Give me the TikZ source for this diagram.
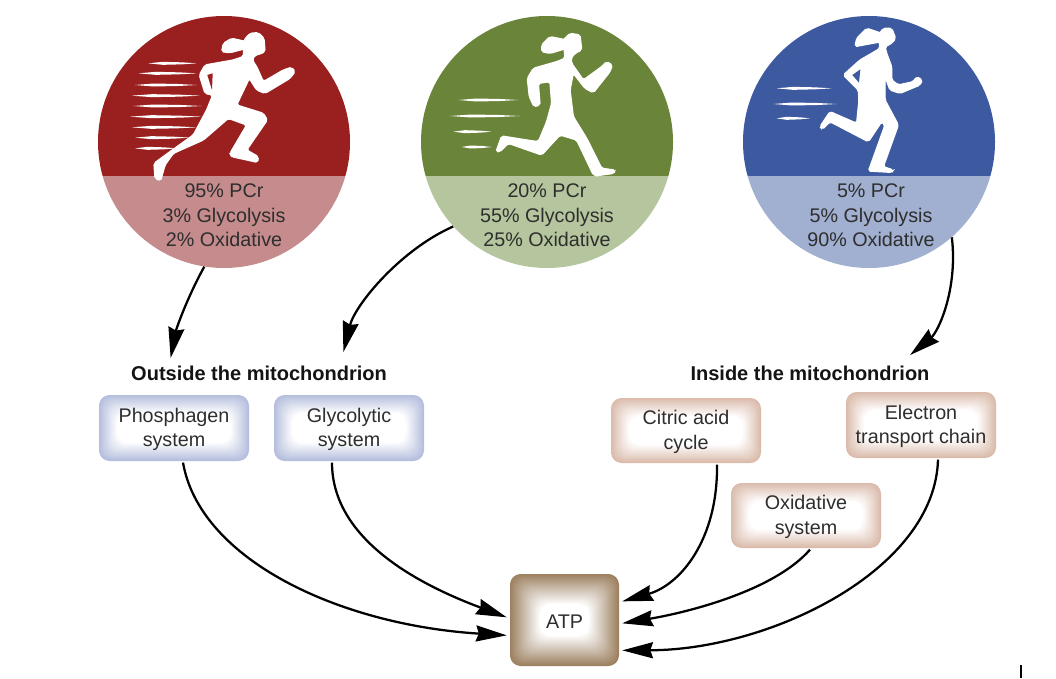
\documentclass[tikz,border=0pt]{standalone}
\usepackage{fontspec}
\setmainfont{Liberation Sans}
\usetikzlibrary{calc,arrows.meta}
\definecolor{redD}{HTML}{9A1F1F}\definecolor{redL}{HTML}{C68B8C}
\definecolor{grnD}{HTML}{6A8439}\definecolor{grnL}{HTML}{B5C69E}
\definecolor{bluD}{HTML}{3D5AA0}\definecolor{bluL}{HTML}{A1AFD0}
\definecolor{boxB}{HTML}{B4BEDD}\definecolor{boxP}{HTML}{DABBAB}\definecolor{boxA}{HTML}{9C8060}
\tikzset{
  pct/.style={font=\fontsize{14.8}{18.4}\selectfont,align=center,inner sep=0pt,text=black!82},
  heading/.style={font=\fontsize{15}{18}\selectfont\bfseries,inner sep=1pt,text=black!92},
  boxtext/.style={font=\fontsize{14.8}{18.4}\selectfont,align=center,inner sep=0pt,text=black!82},
  disc/.style={circle,minimum size=189pt,inner sep=0pt},
  flow/.style={line width=1.7pt,black,-{Stealth[length=23pt,width=12pt,inset=2pt]}},
  body/.style={fill=white,draw=white,line width=1pt,rounded corners=1.4pt},
}
% name, cx, cy, w, h, colour, depth, text
\newcommand\glowbox[8]{%
  \foreach \i in {0,...,#7}{%
    \pgfmathsetmacro\share{100*(1-\i/#7)}%
    \fill[#6!\share!white,rounded corners=8pt]
      ({#2-#4/2+\i},{#3-#5/2+\i}) rectangle ({#2+#4/2-\i},{#3+#5/2-\i});
  }%
  \node[boxtext,minimum width=#4*.75pt,minimum height=#5*.75pt,yshift=-1pt] (#1) at (#2,#3) {#8};
}
% name, cx, colour dark, colour light
\newcommand\halfdisc[4]{%
  \node[disc] (#1) at (#2,142) {};
  \begin{scope}
    \clip (#2,142) circle [radius=126];
    \fill[#3] ({#2-130},10) rectangle ({#2+130},176);
    \fill[#4] ({#2-130},176) rectangle ({#2+130},275);
  \end{scope}
}
\newcommand\speed[3]{\fill[white] (#1,#3) -- ({#1+(#2-#1)*.3},{#3-4.5}) -- ({#1+(#2-#1)*.7},{#3-3}) -- (#2,#3) -- ({#1+(#2-#1)*.7},{#3+3}) -- ({#1+(#2-#1)*.3},{#3+4.5}) -- cycle;}
\begin{document}
\begin{tikzpicture}[x=.75pt,y=-.75pt]
\useasboundingbox (0,0) rectangle (1056,678);
\fill[white] (0,0) rectangle (1056,678);

\halfdisc{discA}{224}{redD}{redL}
\halfdisc{discB}{547}{grnD}{grnL}
\halfdisc{discC}{869}{bluD}{bluL}

% runner 1
\begin{scope}[shift={(90,10)},x=.25pt,y=-.25pt]
\fill[body] (462,90)--(480,70)--(505,68)--(522,85)--(525,125)--(508,133)--(495,135)--(487,150)--(500,170)--(520,215)--(580,180)--(605,172)--(615,185)--(600,205)--(525,250)--(500,240)--(478,205)--(440,285)--(520,310)--(532,330)--(470,420)--(505,440)--(503,457)--(425,440)--(420,430)--(470,345)--(415,325)--(340,390)--(250,430)--(225,465)--(212,512)--(195,505)--(192,460)--(240,425)--(310,375)--(350,300)--(368,255)--(345,250)--(328,195)--(345,165)--(430,150)--(460,140)--cycle;
\fill[body] (470,95)--(425,85)--(400,100)--(395,125)--(420,128)--(470,115)--cycle;
\fill[redD] (352,195)--(368,190)--(366,240)--cycle;
\speed{175}{320}{160}\speed{145}{320}{190}\speed{135}{320}{225}
\speed{125}{330}{257}\speed{130}{335}{288}\speed{120}{335}{320}
\speed{125}{320}{352}\speed{135}{300}{383}\speed{135}{260}{415}
\end{scope}

% runner 2
\begin{scope}[shift={(410,10)},x=.25pt,y=-.25pt]
\fill[body] (460,90)--(480,70)--(510,75)--(515,120)--(495,130)--(483,145)--(485,160)--(520,210)--(575,170)--(590,155)--(607,165)--(600,185)--(550,248)--(525,235)--(490,190)--(480,240)--(490,320)--(530,385)--(575,475)--(615,480)--(612,490)--(560,497)--(550,495)--(500,390)--(450,375)--(395,435)--(295,400)--(270,425)--(258,425)--(275,378)--(350,390)--(385,395)--(410,335)--(425,280)--(420,215)--(385,220)--(390,285)--(372,290)--(358,260)--(352,205)--(370,175)--(440,155)--(465,145)--cycle;
\fill[body] (470,90)--(420,80)--(395,105)--(395,125)--(420,130)--(470,115)--cycle;
\speed{145}{325}{270}\speed{120}{330}{318}\speed{130}{245}{365}\speed{155}{245}{411}
\end{scope}

% runner 3
\begin{scope}[shift={(735,10)},x=.25pt,y=-.25pt]
\fill[body] (430,75)--(445,55)--(470,55)--(482,85)--(470,100)--(450,110)--(455,130)--(470,170)--(470,210)--(490,225)--(535,215)--(545,200)--(562,210)--(555,225)--(495,250)--(465,240)--(450,200)--(450,270)--(490,345)--(445,470)--(475,480)--(470,487)--(400,483)--(408,462)--(450,345)--(440,335)--(400,395)--(285,335)--(262,358)--(255,350)--(285,305)--(365,340)--(372,270)--(370,240)--(325,195)--(375,150)--(410,130)--(435,115)--cycle;
\fill[bluD] (352,195)--(376,178)--(372,218)--cycle;
\fill[body] (440,70)--(395,55)--(365,85)--(360,110)--(385,105)--(440,95)--cycle;
\speed{125}{290}{235}\speed{115}{305}{282}\speed{125}{225}{325}
\end{scope}

\node[pct] (textA) at (224,215.5) {95\% PCr\\3\% Glycolysis\\2\% Oxidative};
\node[pct] (textB) at (547,215.5) {20\% PCr\\55\% Glycolysis\\25\% Oxidative};
\node[pct] (textC) at (871,215.5) {5\% PCr\\5\% Glycolysis\\90\% Oxidative};

\node[heading] (outside) at (259,373) {Outside the mitochondrion};
\node[heading] (inside) at (810,373) {Inside the mitochondrion};

\glowbox{phos}{174}{428}{150}{66}{boxB}{18}{Phosphagen\\system}
\glowbox{glyc}{349}{428}{150}{66}{boxB}{18}{Glycolytic\\system}
\glowbox{citric}{686}{430.5}{150}{65}{boxP}{18}{Citric acid\\cycle}
\glowbox{elec}{921}{425}{150}{66}{boxP}{18}{Electron\\transport chain}
\glowbox{oxid}{806}{515.5}{150}{65}{boxP}{18}{Oxidative\\system}
\glowbox{atp}{564.5}{620}{109}{92}{boxA}{30}{ATP}

\draw[flow] (discA.261) .. controls (186,300) and (176,330) .. ($(outside.north west)+(41,-6)$);
\draw[flow] (discB.222) .. controls (400,250) and (355,305) .. ($(outside.north east)+(-45,-12)$);
\draw[flow] (discC.311) .. controls (958,290) and (938,332) .. ($(inside.north east)+(-21,-9)$);

\draw[flow] ($(phos.south)+(9,0)$) .. controls (200,560) and (340,625) .. ($(atp.west)+(-3,14)$);
\draw[flow] ($(glyc.south)+(-17,0)$) .. controls (332,540) and (420,585) .. ($(atp.west)+(-3,-4)$);
\draw[flow] ($(citric.south)+(31,0)$) .. controls (718,540) and (680,585) .. ($(atp.east)+(3,-20)$);
\draw[flow] ($(oxid.south)+(4,0)$) .. controls (775,590) and (690,612) .. ($(atp.east)+(3,2)$);
\draw[flow] ($(elec.south)+(17,0)$) .. controls (935,570) and (770,650) .. ($(atp.east)+(3,29)$);

\coordinate (tickTop) at (1021,665);
\coordinate (tickEnd) at (1021,678);
\draw[line width=1.4pt,black] (tickTop) -- (tickEnd);
\end{tikzpicture}
\end{document}
